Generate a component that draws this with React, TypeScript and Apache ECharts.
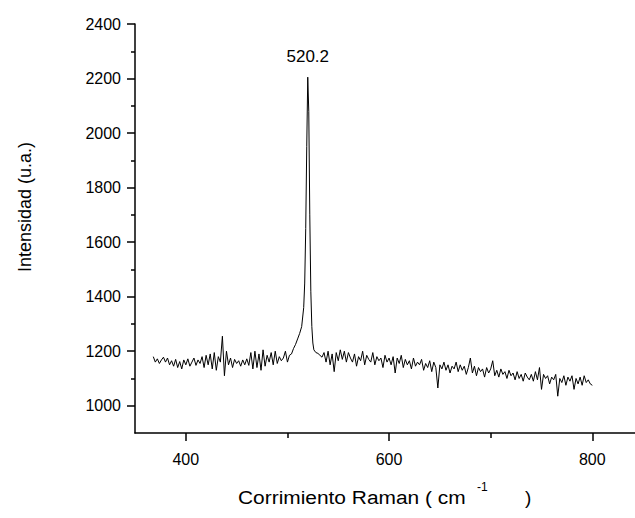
import React, { useEffect, useRef } from "react";
import * as echarts from "echarts";

// Raman shift (cm-1) and intensity (a.u.)
const shift: number[] = [
  368, 370, 372, 374, 376, 378, 380, 382, 384, 386, 388, 390, 392, 394, 396, 398,
  400, 402, 404, 406, 408, 410, 412, 414, 416, 418, 420, 422, 424, 426, 428, 430,
  432, 434, 436, 438, 440, 442, 444, 446, 448, 450, 452, 454, 456, 458, 460, 462,
  464, 466, 468, 470, 472, 474, 476, 478, 480, 482, 484, 486, 488, 490, 492, 494,
  496, 498, 500, 502, 504, 506, 508, 510, 512, 514, 516, 517, 518, 519, 520, 521,
  522, 523, 524, 525, 526, 528, 530, 532, 534, 536, 538, 540, 542, 544, 546, 548,
  550, 552, 554, 556, 558, 560, 562, 564, 566, 568, 570, 572, 574, 576, 578, 580,
  582, 584, 586, 588, 590, 592, 594, 596, 598, 600, 602, 604, 606, 608, 610, 612,
  614, 616, 618, 620, 622, 624, 626, 628, 630, 632, 634, 636, 638, 640, 642, 644,
  646, 648, 650, 652, 654, 656, 658, 660, 662, 664, 666, 668, 670, 672, 674, 676,
  678, 680, 682, 684, 686, 688, 690, 692, 694, 696, 698, 700, 702, 704, 706, 708,
  710, 712, 714, 716, 718, 720, 722, 724, 726, 728, 730, 732, 734, 736, 738, 740,
  742, 744, 746, 748, 750, 752, 754, 756, 758, 760, 762, 764, 766, 768, 770, 772,
  774, 776, 778, 780, 782, 784, 786, 788, 790, 792, 794, 796, 798, 800,
];

const intensity: number[] = [
  1180, 1160, 1172, 1155, 1168, 1178, 1160, 1175, 1150, 1165, 1145, 1170, 1140, 1162, 1135, 1168,
  1150, 1172, 1145, 1160, 1175, 1148, 1168, 1155, 1180, 1140, 1185, 1150, 1190, 1135, 1195, 1130,
  1180, 1160, 1255, 1110, 1200, 1150, 1175, 1140, 1170, 1155, 1165, 1145, 1168, 1150, 1172, 1148,
  1195, 1135, 1200, 1140, 1190, 1130, 1205, 1145, 1185, 1160, 1195, 1150, 1200, 1155, 1180, 1165,
  1175, 1200, 1160, 1185, 1190, 1210, 1225, 1245, 1265, 1290, 1360, 1450, 1650, 1950, 2205, 2080,
  1700, 1420, 1290, 1230, 1205, 1195, 1192, 1185, 1178, 1195, 1160, 1200, 1150, 1190, 1125, 1195,
  1165, 1205, 1170, 1200, 1160, 1195, 1175, 1160, 1190, 1145, 1180, 1165, 1200, 1150, 1185, 1170,
  1160, 1195, 1150, 1180, 1165, 1175, 1140, 1185, 1160, 1175, 1150, 1180, 1120, 1175, 1155, 1185,
  1140, 1170, 1150, 1165, 1135, 1175, 1145, 1160, 1150, 1170, 1130, 1155, 1140, 1165, 1125, 1160,
  1140, 1065, 1150, 1135, 1160, 1130, 1150, 1120, 1145, 1135, 1160, 1125, 1150, 1130, 1145, 1115,
  1140, 1175, 1120, 1145, 1110, 1140, 1125, 1135, 1105, 1140, 1120, 1135, 1165, 1110, 1130, 1105,
  1135, 1115, 1125, 1100, 1130, 1110, 1120, 1095, 1125, 1100, 1115, 1090, 1120, 1105, 1095, 1115,
  1090, 1125, 1095, 1140, 1060, 1115, 1100, 1110, 1080, 1105, 1095, 1115, 1035, 1100, 1085, 1110,
  1075, 1105, 1090, 1110, 1060, 1100, 1080, 1105, 1075, 1110, 1085, 1095, 1080, 1075,
];

const xMajorTicks: number[] = [400, 600, 800];
const xMinorTicks: number[] = [500, 700];
const yMajorTicks: number[] = [1000, 1200, 1400, 1600, 1800, 2000, 2200, 2400];
const yMinorTicks: number[] = [1100, 1300, 1500, 1700, 1900, 2100, 2300];

const X_MIN = 350;
const X_MAX = 842;
const Y_MIN = 900;
const Y_MAX = 2400;

const PEAK_LABEL = "520.2";
const X_TITLE = "Corrimiento Raman ( cm";
const X_TITLE_SUP = "-1";
const X_TITLE_END = ")";
const Y_TITLE = "Intensidad (u.a.)";

const FONT = "'Liberation Sans', Arial, Helvetica, sans-serif";

export default function App() {
  const ref = useRef<HTMLDivElement>(null);

  useEffect(() => {
    if (!ref.current) return;
    const chart = echarts.init(ref.current, undefined, { renderer: "svg" });
    const data = shift.map((x, i) => [x, intensity[i]]);
    const lineStyle = { color: "#000", width: 1.5 };

    chart.setOption({
      animation: false,
      backgroundColor: "#fff",
      grid: { left: 135, right: 0, top: 24, bottom: 85, containLabel: false },
      xAxis: [
        {
          type: "value",
          min: X_MIN,
          max: X_MAX,
          splitLine: { show: false },
          axisLine: { show: true, lineStyle },
          axisTick: { show: true, length: 8, customValues: xMajorTicks, lineStyle },
          axisLabel: {
            customValues: xMajorTicks,
            formatter: (v: number) => String(v),
            color: "#000",
            fontSize: 16,
            fontFamily: FONT,
            margin: 18,
          },
        },
        {
          type: "value",
          position: "bottom",
          offset: 0,
          min: X_MIN,
          max: X_MAX,
          splitLine: { show: false },
          axisLine: { show: false },
          axisTick: { show: true, length: 5, customValues: xMinorTicks, lineStyle },
          axisLabel: { show: false },
        },
      ],
      yAxis: [
        {
          type: "value",
          min: Y_MIN,
          max: Y_MAX,
          splitLine: { show: false },
          axisLine: { show: true, lineStyle },
          axisTick: { show: true, length: 8, customValues: yMajorTicks, lineStyle },
          axisLabel: {
            customValues: yMajorTicks,
            formatter: (v: number) => String(v),
            color: "#000",
            fontSize: 16,
            fontFamily: FONT,
            margin: 14,
          },
        },
        {
          type: "value",
          position: "left",
          offset: 0,
          min: Y_MIN,
          max: Y_MAX,
          splitLine: { show: false },
          axisLine: { show: false },
          axisTick: { show: true, length: 4, customValues: yMinorTicks, lineStyle },
          axisLabel: { show: false },
        },
      ],
      series: [
        {
          type: "line",
          data,
          xAxisIndex: 0,
          yAxisIndex: 0,
          showSymbol: false,
          symbol: "none",
          lineStyle: { color: "#000", width: 1 },
          markPoint: {
            symbol: "circle",
            symbolSize: 0,
            data: [{ type: "max" }],
            label: {
              show: true,
              position: "top",
              distance: 12,
              formatter: () => PEAK_LABEL,
              color: "#000",
              fontSize: 17,
              fontFamily: FONT,
            },
          },
        },
      ],
      graphic: [
        {
          type: "text",
          left: 238,
          top: 488,
          scaleX: 1.1,
          style: { text: X_TITLE, fill: "#000", fontSize: 19, fontFamily: FONT },
        },
        {
          type: "text",
          left: 477,
          top: 481,
          style: { text: X_TITLE_SUP, fill: "#000", fontSize: 12, fontFamily: FONT },
        },
        {
          type: "text",
          left: 525,
          top: 488,
          style: { text: X_TITLE_END, fill: "#000", fontSize: 19, fontFamily: FONT },
        },
        {
          type: "text",
          x: 25,
          y: 207,
          rotation: Math.PI / 2,
          style: {
            text: Y_TITLE,
            fill: "#000",
            fontSize: 18,
            fontFamily: FONT,
            align: "center",
            verticalAlign: "middle",
          },
        },
      ],
    });

    return () => chart.dispose();
  }, []);

  return (
    <div
      ref={ref}
      style={{ position: "absolute", left: 0, top: 0, width: 635, height: 518 }}
    />
  );
}
